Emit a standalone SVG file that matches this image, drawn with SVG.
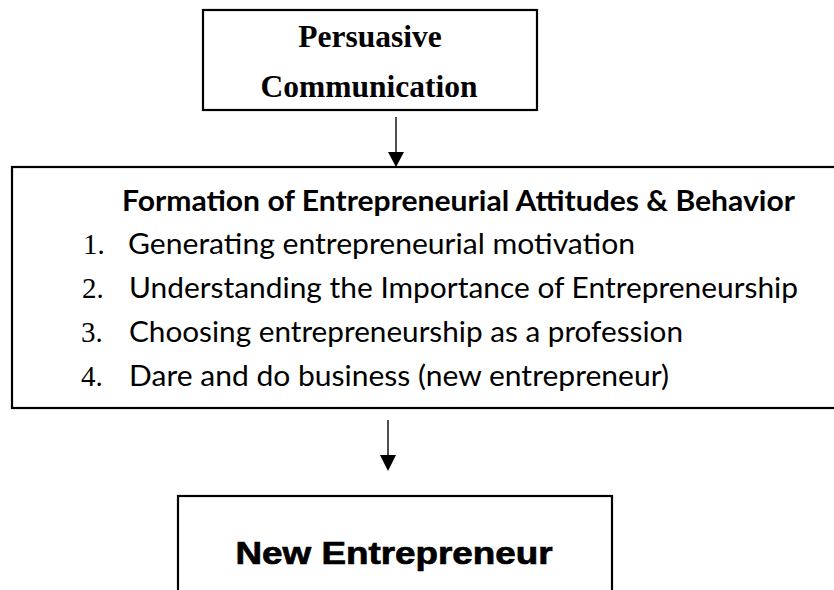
<svg xmlns="http://www.w3.org/2000/svg" width="834" height="590" viewBox="0 0 834 590">
<style>
.box{fill:#fff;stroke:#000;stroke-width:2.2}
.conn{stroke:#222;stroke-width:1.6;fill:none}
.head{fill:#000}
.serifb{font-family:"Liberation Serif","Times New Roman",serif;font-weight:bold;fill:#000}
.cal{font-family:Lato,"Open Sans",sans-serif;fill:#000}
.num{font-family:"Liberation Serif","Times New Roman",serif;fill:#000}
.heavy{font-family:"Liberation Sans",Arial,sans-serif;font-weight:bold;fill:#000;stroke:#000;stroke-width:0.7}
</style>
<rect width="834" height="590" fill="#fff"/>
<g id="node-persuasive">
<rect class="box" x="203" y="10" width="334" height="100"/>
<text class="serifb" x="370" y="47" font-size="31.5" text-anchor="middle">Persuasive</text>
<text class="serifb" x="369" y="97" font-size="31.5" text-anchor="middle">Communication</text>
</g>
<g id="node-formation">
<rect class="box" x="12" y="167" width="840" height="241"/>
<text class="cal" x="122" y="211" font-size="28" font-weight="bold" textLength="673" lengthAdjust="spacingAndGlyphs">Formation of Entrepreneurial Attitudes &amp; Behavior</text>
<text class="num" x="83" y="254" font-size="29">1.</text>
<text class="cal" x="128" y="254" font-size="28" textLength="507" lengthAdjust="spacingAndGlyphs">Generating entrepreneurial motivation</text>
<text class="num" x="82" y="298" font-size="29">2.</text>
<text class="cal" x="129" y="298" font-size="28" textLength="669" lengthAdjust="spacingAndGlyphs">Understanding the Importance of Entrepreneurship</text>
<text class="num" x="81" y="342" font-size="29">3.</text>
<text class="cal" x="129" y="342" font-size="28" textLength="554" lengthAdjust="spacingAndGlyphs">Choosing entrepreneurship as a profession</text>
<text class="num" x="81" y="386" font-size="29">4.</text>
<text class="cal" x="129" y="386" font-size="28" textLength="540" lengthAdjust="spacingAndGlyphs">Dare and do business (new entrepreneur)</text>
</g>
<g id="node-new-entrepreneur">
<rect class="box" x="178" y="496" width="434" height="110"/>
<text class="heavy" x="394" y="564" font-size="31" text-anchor="middle" textLength="317" lengthAdjust="spacingAndGlyphs">New Entrepreneur</text>
</g>
<g id="connectors">
<line class="conn" x1="396" y1="117" x2="396" y2="154"/>
<polygon class="head" points="388,152 404,152 396,167"/>
<line class="conn" x1="388" y1="420" x2="388" y2="457"/>
<polygon class="head" points="380,455 396,455 388,471"/>
</g>
</svg>
